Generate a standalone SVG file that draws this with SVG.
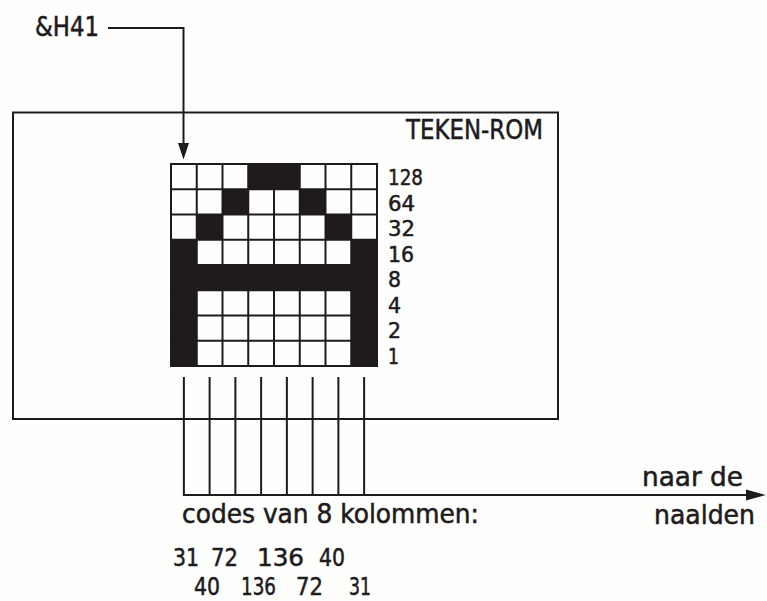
<svg xmlns="http://www.w3.org/2000/svg" width="767" height="601" viewBox="0 0 767 601">
  <style>
    .ink { stroke: #1f1b1d; stroke-width: 2; fill: none; }
    .fill { fill: #1f1b1d; }
    .cell { fill: #1f1b1d; stroke: none; }
    text { font-family: "DejaVu Sans Condensed", "DejaVu Sans", "Liberation Sans", sans-serif; font-size: 26.5px; fill: #1f1b1d; stroke: #1f1b1d; stroke-width: 0.5; }
    .bit { font-size: 21.5px; }
    .code { font-size: 25px; }
  </style>
  <rect x="0" y="0" width="767" height="601" fill="#fefefd"/>

  <g id="teken-rom">
    <rect class="ink" x="13" y="112.5" width="545" height="306.5"/>
    <text x="406" y="138.5" textLength="137" lengthAdjust="spacingAndGlyphs">TEKEN-ROM</text>
  </g>

  <g id="character-grid">
    <rect class="cell" x="248.25" y="164" width="51.5" height="25.25"/>
    <rect class="cell" x="222.5" y="189.25" width="25.75" height="25.25"/>
    <rect class="cell" x="299.75" y="189.25" width="25.75" height="25.25"/>
    <rect class="cell" x="196.75" y="214.5" width="25.75" height="25.25"/>
    <rect class="cell" x="325.5" y="214.5" width="25.75" height="25.25"/>
    <rect class="cell" x="171" y="239.75" width="25.75" height="126.25"/>
    <rect class="cell" x="351.25" y="239.75" width="25.75" height="126.25"/>
    <rect class="cell" x="171" y="265" width="206" height="25.25"/>
    <path class="ink" d="M196.75,164V366M222.5,164V366M248.25,164V366M274,164V366M299.75,164V366M325.5,164V366M351.25,164V366
                         M171,189.25H377M171,214.5H377M171,239.75H377M171,265H377M171,290.25H377M171,315.5H377M171,340.75H377"/>
    <rect class="ink" x="171" y="164" width="206" height="202"/>
  </g>

  <g id="bit-values">
    <text class="bit" x="388" y="185" textLength="35" lengthAdjust="spacingAndGlyphs">128</text>
    <text class="bit" x="388" y="210.5" textLength="27" lengthAdjust="spacingAndGlyphs">64</text>
    <text class="bit" x="388" y="236" textLength="27" lengthAdjust="spacingAndGlyphs">32</text>
    <text class="bit" x="388" y="261.5" textLength="26" lengthAdjust="spacingAndGlyphs">16</text>
    <text class="bit" x="388" y="287" textLength="13" lengthAdjust="spacingAndGlyphs">8</text>
    <text class="bit" x="388" y="312.5" textLength="13" lengthAdjust="spacingAndGlyphs">4</text>
    <text class="bit" x="388" y="338" textLength="13" lengthAdjust="spacingAndGlyphs">2</text>
    <text class="bit" x="388" y="363.5" textLength="11" lengthAdjust="spacingAndGlyphs">1</text>
  </g>

  <g id="address">
    <text x="35" y="36" textLength="64" lengthAdjust="spacingAndGlyphs">&amp;H41</text>
  </g>

  <g id="output-label">
    <text x="642" y="485.5" textLength="101" lengthAdjust="spacingAndGlyphs">naar de</text>
    <text x="654" y="523.5" textLength="101" lengthAdjust="spacingAndGlyphs">naalden</text>
  </g>

  <g id="column-codes">
    <text x="182" y="522.5" textLength="297" lengthAdjust="spacingAndGlyphs">codes van 8 kolommen:</text>
    <text class="code" x="173" y="565.5" textLength="26" lengthAdjust="spacingAndGlyphs">31</text>
    <text class="code" x="211" y="565.5" textLength="27" lengthAdjust="spacingAndGlyphs">72</text>
    <text class="code" x="257" y="565.5" textLength="47" lengthAdjust="spacingAndGlyphs">136</text>
    <text class="code" x="319" y="565.5" textLength="26" lengthAdjust="spacingAndGlyphs">40</text>
    <text class="code" x="194" y="594.5" textLength="26" lengthAdjust="spacingAndGlyphs">40</text>
    <text class="code" x="241" y="594.5" textLength="35" lengthAdjust="spacingAndGlyphs">136</text>
    <text class="code" x="296" y="594.5" textLength="27" lengthAdjust="spacingAndGlyphs">72</text>
    <text class="code" x="349" y="594.5" textLength="22" lengthAdjust="spacingAndGlyphs">31</text>
  </g>

  <g id="connectors">
    <path class="ink" d="M108,28H183.5V145"/>
    <polygon class="fill" points="183.5,159.5 178,143 189,143"/>
    <path class="ink" d="M183.875,377V495M209.625,377V495M235.375,377V495M261.125,377V495M286.875,377V495M312.625,377V495M338.375,377V495M364.125,377V495"/>
    <path class="ink" d="M182.9,495H748"/>
    <polygon class="fill" points="766,495 746,489.5 746,500.5"/>
  </g>
</svg>
